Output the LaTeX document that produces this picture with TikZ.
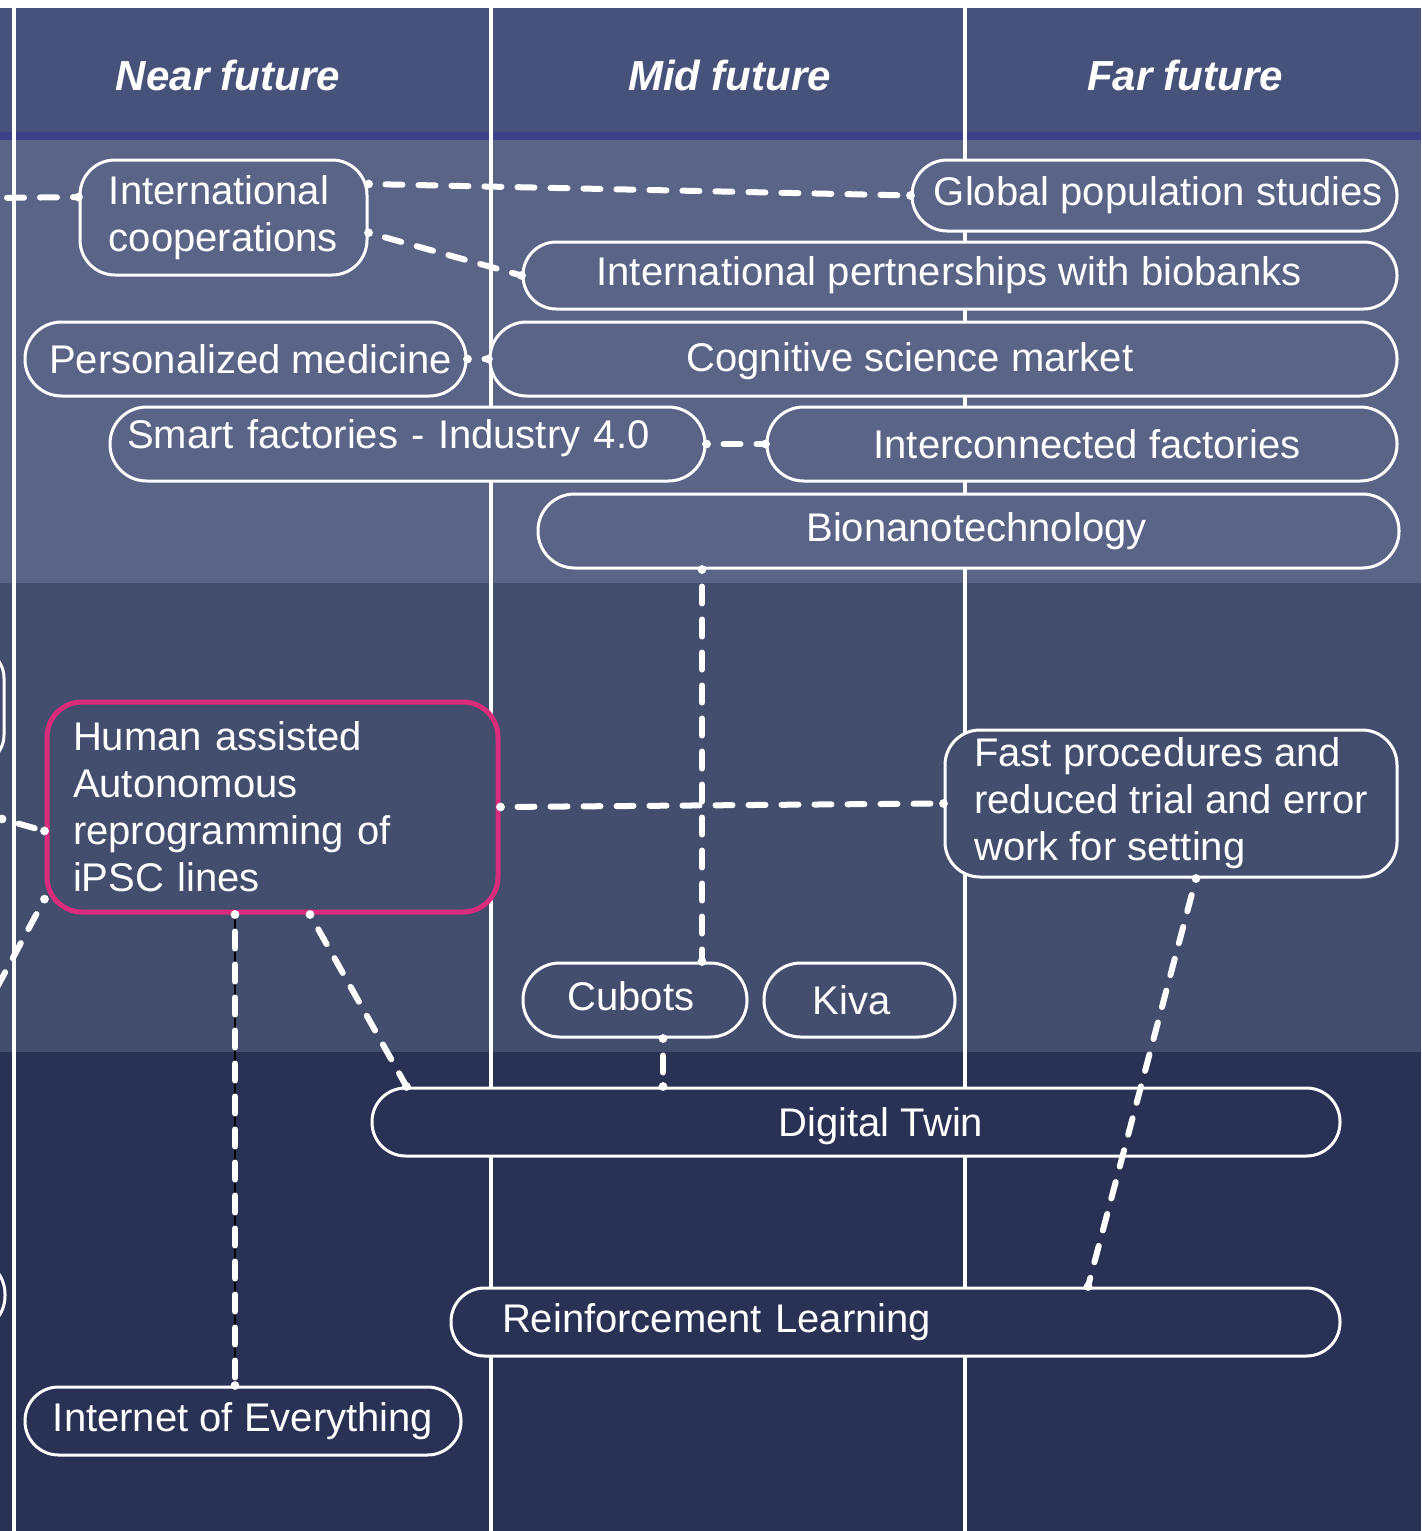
\documentclass[tikz,border=0pt]{standalone}
\usepackage{fontspec}
\setmainfont{Liberation Sans}
\usetikzlibrary{calc}

\definecolor{headbg}{RGB}{70,82,122}
\definecolor{headrule}{RGB}{63,64,140}
\definecolor{bandA}{RGB}{90,100,135}
\definecolor{bandB}{RGB}{67,78,111}
\definecolor{bandC}{RGB}{41,49,84}
\definecolor{hilite}{RGB}{217,44,124}

% dashed white connector with a dot at each end
\newcommand\dlink[2]{%
  \draw[link] (#1) -- (#2);
  \fill[white] (#1) circle (2.2pt) (#2) circle (2.2pt);}

\begin{document}
\begin{tikzpicture}[x=0.5pt, y=-0.5pt,
  box/.style={draw=white, line width=1.5pt, inner sep=0pt, text=white,
    font=\fontsize{20}{23.5}\selectfont},
  head/.style={text=white, inner sep=0pt, font=\fontsize{21}{25}\selectfont\bfseries\itshape},
  link/.style={draw=white, line width=3pt, line cap=round,
    dash pattern=on 8.5pt off 8pt, dash phase=8pt},
  colline/.style={draw=white, line width=2pt}]

\useasboundingbox (0,0) rectangle (1421,1531);
\begin{scope}
\clip (0,0) rectangle (1421,1531);

% background bands
\fill[white] (0,0) rectangle (1421,1531);
\fill[headbg] (0,8) rectangle (1421,132);
\fill[headrule] (0,132) rectangle (1421,140);
\fill[bandA] (0,140) rectangle (1421,583);
\fill[bandB] (0,583) rectangle (1421,1052);
\fill[bandC] (0,1052) rectangle (1421,1531);

% column dividers
\draw[colline] (14,8) -- (14,1531);
\draw[colline] (490.5,8) -- (490.5,1531);
\draw[colline] (964.5,8) -- (964.5,1531);

% column headings
\node[head] (hnear) at (228,75) {Near future};
\node[head] (hmid) at (729.5,75) {Mid future};
\node[head] (hfar) at (1185,75) {Far future};

% boxes continuing from the left
\node[box, fill=bandB, rounded corners=15pt, minimum width=100pt, minimum height=58.5pt] (offA) at (-96,706.5) {};
\node[box, fill=bandC, rounded corners=18pt, minimum width=100pt, minimum height=37pt] (offB) at (-95,1295) {};

% top band
\node[box, fill=bandA, rounded corners=17.5pt, minimum width=143.5pt, minimum height=57.5pt, align=left] (ic) at (223.5,217.5) {International\\cooperations};
\node[box, fill=bandA, rounded corners=17.6pt, minimum width=242.5pt, minimum height=35.5pt] (gp) at (1154.5,195.5) {\hspace*{4pt}Global population studies};
\node[box, fill=bandA, rounded corners=16.6pt, minimum width=437pt, minimum height=33.5pt] (ip) at (960,275.5) {International pertnerships with biobanks\hspace*{11pt}};
\node[box, fill=bandA, rounded corners=18.3pt, minimum width=220.5pt, minimum height=37pt] (pm) at (245.5,359) {\hspace*{5pt}Personalized medicine};
\node[box, fill=bandA, rounded corners=18.3pt, minimum width=453.5pt, minimum height=37pt, text height=17pt] (cs) at (943.5,359) {Cognitive science market\hspace*{33.5pt}};
\node[box, fill=bandA, rounded corners=18.3pt, minimum width=297.5pt, minimum height=37pt, text width=280.5pt, inner xsep=8.5pt, align=left, text depth=10pt] (sf) at (407.5,444) {Smart factories - Industry 4.0};
\node[box, fill=bandA, rounded corners=18.3pt, minimum width=315pt, minimum height=37pt] (icf) at (1082,444) {\hspace*{5pt}Interconnected factories};
\node[box, fill=bandA, rounded corners=18.3pt, minimum width=430.5pt, minimum height=37pt] (bn) at (968.5,531) {\hspace*{8pt}Bionanotechnology};

% middle band
\node[box, draw=hilite, line width=2.5pt, fill=bandB, rounded corners=17.5pt, minimum width=225.5pt, minimum height=105pt, text width=199.5pt, inner xsep=13pt, align=left] (ha) at (272.5,807) {Human assisted\\Autonomous\\reprogramming of\\iPSC lines};
\node[box, fill=bandB, rounded corners=17.5pt, minimum width=226pt, minimum height=73.5pt, align=left] (fp) at (1171,803.5) {Fast procedures and\\reduced trial and error\\work for setting};
\node[box, fill=bandB, rounded corners=18.3pt, minimum width=112pt, minimum height=37pt, text depth=4pt] (cb) at (635,1000) {Cubots\hspace*{4pt}};
\node[box, fill=bandB, rounded corners=18.3pt, minimum width=95.5pt, minimum height=37pt] (kv) at (859.5,1000) {Kiva\hspace*{8pt}};

% bottom band
\node[box, fill=bandC, rounded corners=16.8pt, minimum width=484pt, minimum height=34pt, text height=19pt] (dt) at (856,1122) {\hspace*{25pt}Digital Twin};
\node[box, fill=bandC, rounded corners=16.8pt, minimum width=444.5pt, minimum height=34pt, text width=393.5pt, inner xsep=25.5pt, align=left] (rl) at (895.5,1322) {Reinforcement Learning};
\node[box, fill=bandC, rounded corners=16.8pt, minimum width=218pt, minimum height=34pt] (ioe) at (243,1421) {Internet of Everything};

% connector end points
\coordinate (edgeA) at (-10,198);
\coordinate (edgeB) at (2,819);
\coordinate (edgeC) at (-20,1019);
\coordinate (xbn) at (702,0);
\coordinate (xcb) at (663,0);
\coordinate (xdt) at (310,0);
\coordinate (xioe) at (235,0);

% connectors
\dlink{edgeA}{ic.172}
\dlink{ic.13}{gp.west}
\dlink{ic.-6}{ip.west}
\dlink{pm.east}{cs.west}
\dlink{sf.east}{icf.west}
\dlink{bn.south -| xbn}{cb.north -| xbn}
\dlink{cb.south -| xcb}{dt.north -| xcb}
\dlink{ha.east}{fp.west}
\dlink{edgeB}{ha.186}
\dlink{ha.202}{edgeC}
\dlink{ha.south -| xdt}{[xshift=18pt]dt.north west}
\draw[black, line width=1.2pt] (ha.south -| xioe) -- (ioe.north -| xioe);
\dlink{ha.south -| xioe}{ioe.north -| xioe}
\dlink{[xshift=12.5pt]fp.south}{[xshift=96.25pt]rl.north}
\end{scope}
\end{tikzpicture}
\end{document}
